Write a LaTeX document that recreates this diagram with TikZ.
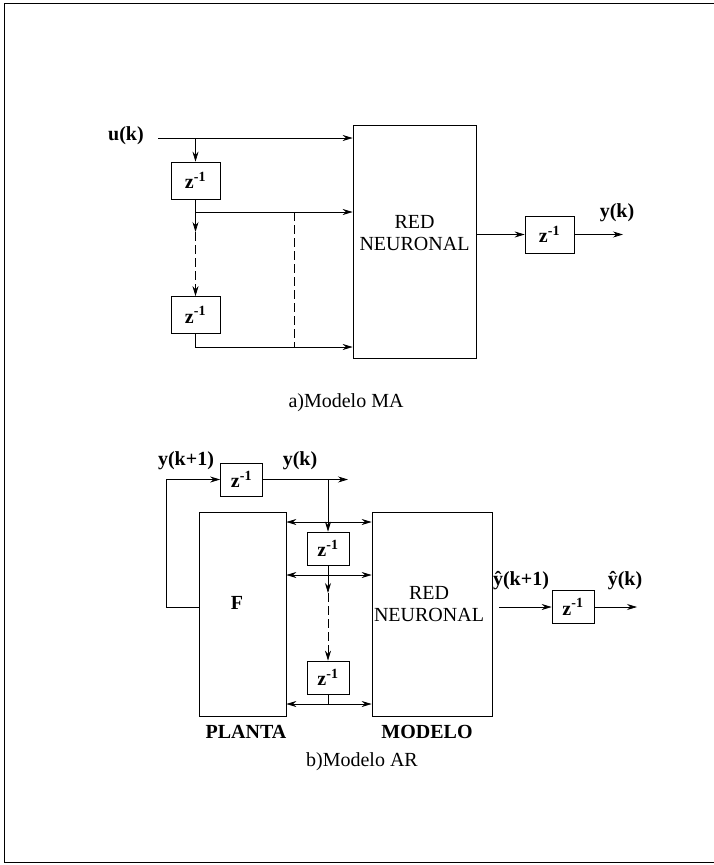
\documentclass[tikz,border=0pt]{standalone}
\usepackage{fontspec}
\setmainfont{Liberation Serif}
\usetikzlibrary{arrows.meta}

\tikzset{
  blk/.style={draw, inner sep=0pt},
  zbox/.style={blk, minimum width=49pt, minimum height=37pt, font=\bfseries\fontsize{20}{22}\selectfont},
  zboxb/.style={blk, minimum width=42pt, minimum height=33pt, font=\bfseries\fontsize{20}{22}\selectfont},
  lbl/.style={font=\bfseries\fontsize{20}{22}\selectfont},
  gap/.style={dash pattern=on 9pt off 4pt}
}

\begin{document}
\begin{tikzpicture}[x=1pt, y=-1pt, line width=0.7pt, >={Stealth[length=10pt,width=6pt]},
  font=\fontsize{20}{22}\selectfont]
\useasboundingbox (0,0) rectangle (714,865);
\draw (714,3) -- (4,3) -- (4,862) -- (714,862);

% a) Modelo MA
\node[zbox] (zA1) at (195.5,180.5) {z\textsuperscript{-1}};
\node[zbox] (zA2) at (195.5,315) {z\textsuperscript{-1}};
\node[blk, minimum width=123pt, minimum height=233pt] (redA) at (414.5,241.5) {};
\node[align=center] (redAtxt) at (414.5,233) {RED\\NEURONAL};
\node[zbox] (zA3) at (549.5,234.5) {z\textsuperscript{-1}};
\path
(126,136) node[lbl] (uk) {u(k)};
\path
(617,213) node[lbl] (ykA) {y(k)};
\coordinate (uin) at (158,138);
\coordinate (tapA) at (195.5,212);
\coordinate (youtA) at (623,234.5);
\draw[->] (uin) -- (redA.west |- uin);
\draw[->] (zA1.north |- uin) -- (zA1.north);
\draw (zA1.south) -- (tapA);
\draw[->] (tapA) -- (redA.west |- tapA);
\draw[->] (tapA) -- ++(0,20);
\draw[gap] (195.5,232) -- (195.5,285);
\draw[->] (195.5,285) -- (zA2.north);
\draw[->] (zA2.south) |- (redA.west |- 0,347);
\draw[gap] (294,212) -- (294,347);
\draw[->] (redA.east |- zA3.west) -- (zA3.west);
\draw[->] (zA3.east) -- (youtA);
\path
(346,403) node (capA) {a)Modelo MA};

% b) Modelo AR
\node[zboxb] (zB0) at (241.5,479.5) {z\textsuperscript{-1}};
\node[blk, minimum width=87pt, minimum height=204pt] (F) at (242.5,614) {};
\node[lbl] (Ftxt) at (237,603) {F};
\node[blk, minimum width=120pt, minimum height=204pt] (redB) at (432,614) {};
\node[align=center] (redBtxt) at (429,604) {RED\\NEURONAL};
\node[zboxb] (zB1) at (328,548.5) {z\textsuperscript{-1}};
\node[zboxb] (zB2) at (328,677.5) {z\textsuperscript{-1}};
\node[zboxb] (zB3) at (573,607) {z\textsuperscript{-1}};
\path
(186,461) node[lbl] (yk1) {y(k+1)};
\path
(300,461) node[lbl] (ykB) {y(k)};
\path
(521,581) node[lbl] (yhk1) {ŷ(k+1)};
\path
(625,581) node[lbl] (yhk) {ŷ(k)};
\coordinate (youtB) at (348,479.5);
\coordinate (rinB) at (499,607);
\coordinate (yhout) at (637,607);
\draw[->] ([yshift=7pt]F.west) -- ++(-32,0) |- (zB0.west);
\draw[->] (zB0.east) -- (youtB);
\draw[->] (zB1.north |- zB0.east) -- (zB1.north);
\draw[<->] (F.east |- 0,522) -- (redB.west |- 0,522);
\draw[<->] (F.east |- 0,575) -- (redB.west |- 0,575);
\draw[<->] (F.east |- 0,704) -- (redB.west |- 0,704);
\draw (zB1.south) -- (328,575);
\draw[->] (328,575) -- (328,593);
\draw[gap] (328,593) -- (328,650);
\draw[->] (328,650) -- (zB2.north);
\draw (zB2.south) -- (328,704);
\draw[->] (rinB) -- (zB3.west);
\draw[->] (zB3.east) -- (yhout);
\path
(246,732) node[lbl] (planta) {PLANTA};
\path
(427,732) node[lbl] (modelo) {MODELO};
\path
(362,762) node (capB) {b)Modelo AR};
\end{tikzpicture}
\end{document}
